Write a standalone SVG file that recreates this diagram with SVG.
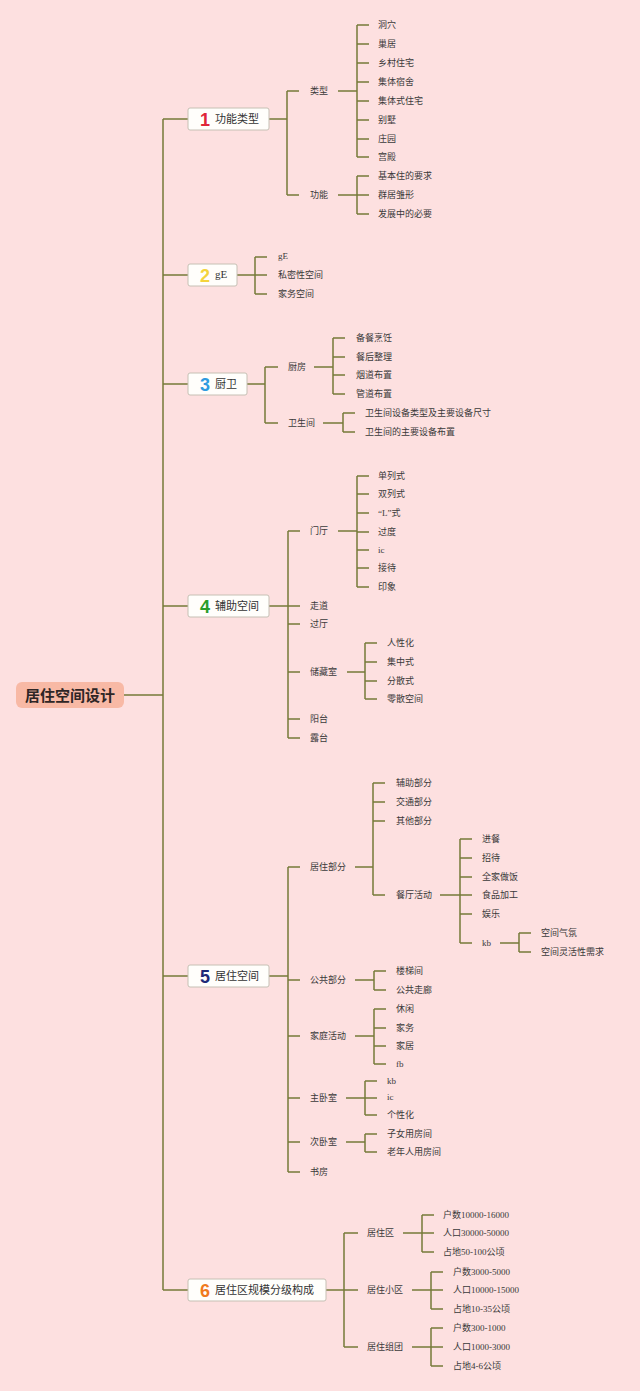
<svg xmlns="http://www.w3.org/2000/svg" width="640" height="1391" viewBox="0 0 640 1391">
<style>
.bg{fill:#fde0e0}
.l{fill:none;stroke:#767a38;stroke-width:1.5}
.t{font-family:"Liberation Serif","Noto Sans CJK SC",serif;font-size:9px;fill:#3a3a3a;dominant-baseline:central}
.h{font-family:"Liberation Serif","Noto Sans CJK SC",serif;font-size:11px;fill:#333;dominant-baseline:central}
.n{font-family:"Liberation Sans","DejaVu Sans",sans-serif;font-weight:bold;font-size:18px;text-anchor:middle;dominant-baseline:central}
.box{fill:#fffefb;stroke:#c6c0b4;stroke-width:1}
.root{fill:#f8b9a5}
.rt{font-family:"Liberation Sans","Noto Sans CJK SC",sans-serif;font-size:15px;font-weight:bold;fill:#2e2626;text-anchor:middle;dominant-baseline:central}
</style>
<rect class="bg" x="0" y="0" width="640" height="1391"/>
<g id="connectors">
<path class="l" d="M124 695H163M163 119V1290M163 119H188M163 275H188M163 384H188M163 606H188M163 976H188M163 1290H188"/>
<path class="l" d="M269 119H287M287 91V195M287 91H299M287 195H299M338 91H357M357 25V157M357 25H369M357 44H369M357 63H369M357 82H369M357 101H369M357 120H369M357 139H369M357 157H369M338 195H357M357 176V214M357 176H369M357 195H369M357 214H369"/>
<path class="l" d="M237 275H255M255 257V294M255 257H267M255 275H267M255 294H267"/>
<path class="l" d="M247 384H265M265 367V423M265 367H278M265 423H278M314 367H333M333 338V394M333 338H345M333 357H345M333 375H345M333 394H345M323 423H343M343 413V432M343 413H355M343 432H355"/>
<path class="l" d="M269 606H288M288 531V738M288 531H300M288 606H300M288 624H300M288 672H300M288 719H300M288 738H300M338 531H357M357 476V587M357 476H369M357 494H369M357 513H369M357 532H369M357 550H369M357 568H369M357 587H369M347 672H365M365 643V699M365 643H377M365 662H377M365 681H377M365 699H377"/>
<path class="l" d="M269 976H288M288 867V1172M288 867H300M288 980H300M288 1036H300M288 1098H300M288 1142H300M288 1172H300M355 867H373M373 783V895M373 783H385M373 802H385M373 821H385M373 895H385M440 895H460M460 839V943M460 839H472M460 858H472M460 877H472M460 895H472M460 914H472M460 943H472M500 943H519M519 933V952M519 933H531M519 952H531M355 980H374M374 971V990M374 971H386M374 990H386M355 1036H374M374 1009V1064M374 1009H386M374 1028H386M374 1046H386M374 1064H386M346 1098H365M365 1081V1115M365 1081H377M365 1098H377M365 1115H377M346 1142H365M365 1134V1152M365 1134H377M365 1152H377"/>
<path class="l" d="M326 1290H344M344 1233V1347M344 1233H358M344 1290H358M344 1347H358M403 1233H422M422 1215V1252M422 1215H434M422 1233H434M422 1252H434M412 1290H431M431 1272V1309M431 1272H443M431 1290H443M431 1309H443M412 1347H431M431 1328V1366M431 1328H443M431 1347H443M431 1366H443"/>
</g>
<g id="root"><rect class="root" x="16" y="682" width="108" height="26" rx="6"/><text class="rt" x="70" y="695">居住空间设计</text></g>
<g id="n1"><rect class="box" x="188" y="108" width="81" height="22" rx="2"/><text class="n" x="205" y="120" fill="#e0263a">1</text><text class="h" x="215" y="119">功能类型</text></g>
<g id="n2"><rect class="box" x="188" y="264" width="49" height="22" rx="2"/><text class="n" x="205" y="276" fill="#f4d43c">2</text><text class="h" x="215" y="274">gE</text></g>
<g id="n3"><rect class="box" x="188" y="373" width="59" height="22" rx="2"/><text class="n" x="205" y="385" fill="#2f9be0">3</text><text class="h" x="215" y="384">厨卫</text></g>
<g id="n4"><rect class="box" x="188" y="595" width="81" height="22" rx="2"/><text class="n" x="205" y="607" fill="#2a9d2a">4</text><text class="h" x="215" y="606">辅助空间</text></g>
<g id="n5"><rect class="box" x="188" y="965" width="81" height="22" rx="2"/><text class="n" x="205" y="977" fill="#1e2a78">5</text><text class="h" x="215" y="976">居住空间</text></g>
<g id="n6"><rect class="box" x="188" y="1279" width="138" height="22" rx="2"/><text class="n" x="205" y="1291" fill="#f07a1e">6</text><text class="h" x="215" y="1290">居住区规模分级构成</text></g>
<g id="n1-children">
<g id="n1a"><text class="t" x="310" y="91">类型</text></g>
<g id="n1a1"><text class="t" x="378" y="25">洞穴</text></g>
<g id="n1a2"><text class="t" x="378" y="44">巢居</text></g>
<g id="n1a3"><text class="t" x="378" y="63">乡村住宅</text></g>
<g id="n1a4"><text class="t" x="378" y="82">集体宿舍</text></g>
<g id="n1a5"><text class="t" x="378" y="101">集体式住宅</text></g>
<g id="n1a6"><text class="t" x="378" y="120">别墅</text></g>
<g id="n1a7"><text class="t" x="378" y="139">庄园</text></g>
<g id="n1a8"><text class="t" x="378" y="157">宫殿</text></g>
<g id="n1b"><text class="t" x="310" y="195">功能</text></g>
<g id="n1b1"><text class="t" x="378" y="176">基本住的要求</text></g>
<g id="n1b2"><text class="t" x="378" y="195">群居雏形</text></g>
<g id="n1b3"><text class="t" x="378" y="214">发展中的必要</text></g>
</g>
<g id="n2-children">
<g id="n2a"><text class="t" x="278" y="256">gE</text></g>
<g id="n2b"><text class="t" x="278" y="275">私密性空间</text></g>
<g id="n2c"><text class="t" x="278" y="294">家务空间</text></g>
</g>
<g id="n3-children">
<g id="n3a"><text class="t" x="288" y="367">厨房</text></g>
<g id="n3a1"><text class="t" x="356" y="338">备餐烹饪</text></g>
<g id="n3a2"><text class="t" x="356" y="357">餐后整理</text></g>
<g id="n3a3"><text class="t" x="356" y="375">烟道布置</text></g>
<g id="n3a4"><text class="t" x="356" y="394">管道布置</text></g>
<g id="n3b"><text class="t" x="288" y="423">卫生间</text></g>
<g id="n3b1"><text class="t" x="365" y="413">卫生间设备类型及主要设备尺寸</text></g>
<g id="n3b2"><text class="t" x="365" y="432">卫生间的主要设备布置</text></g>
</g>
<g id="n4-children">
<g id="n4a"><text class="t" x="310" y="531">门厅</text></g>
<g id="n4a1"><text class="t" x="378" y="476">单列式</text></g>
<g id="n4a2"><text class="t" x="378" y="494">双列式</text></g>
<g id="n4a3"><text class="t" x="378" y="513">“L”式</text></g>
<g id="n4a4"><text class="t" x="378" y="532">过度</text></g>
<g id="n4a5"><text class="t" x="378" y="550">ic</text></g>
<g id="n4a6"><text class="t" x="378" y="568">接待</text></g>
<g id="n4a7"><text class="t" x="378" y="587">印象</text></g>
<g id="n4b"><text class="t" x="310" y="606">走道</text></g>
<g id="n4c"><text class="t" x="310" y="624">过厅</text></g>
<g id="n4d"><text class="t" x="310" y="672">储藏室</text></g>
<g id="n4d1"><text class="t" x="387" y="643">人性化</text></g>
<g id="n4d2"><text class="t" x="387" y="662">集中式</text></g>
<g id="n4d3"><text class="t" x="387" y="681">分散式</text></g>
<g id="n4d4"><text class="t" x="387" y="699">零散空间</text></g>
<g id="n4e"><text class="t" x="310" y="719">阳台</text></g>
<g id="n4f"><text class="t" x="310" y="738">露台</text></g>
</g>
<g id="n5-children">
<g id="n5a"><text class="t" x="310" y="867">居住部分</text></g>
<g id="n5a1"><text class="t" x="396" y="783">辅助部分</text></g>
<g id="n5a2"><text class="t" x="396" y="802">交通部分</text></g>
<g id="n5a3"><text class="t" x="396" y="821">其他部分</text></g>
<g id="n5a4"><text class="t" x="396" y="895">餐厅活动</text></g>
<g id="n5a4a"><text class="t" x="482" y="839">进餐</text></g>
<g id="n5a4b"><text class="t" x="482" y="858">招待</text></g>
<g id="n5a4c"><text class="t" x="482" y="877">全家做饭</text></g>
<g id="n5a4d"><text class="t" x="482" y="895">食品加工</text></g>
<g id="n5a4e"><text class="t" x="482" y="914">娱乐</text></g>
<g id="n5a4f"><text class="t" x="482" y="943">kb</text></g>
<g id="n5a4f1"><text class="t" x="541" y="933">空间气氛</text></g>
<g id="n5a4f2"><text class="t" x="541" y="952">空间灵活性需求</text></g>
<g id="n5b"><text class="t" x="310" y="980">公共部分</text></g>
<g id="n5b1"><text class="t" x="396" y="971">楼梯间</text></g>
<g id="n5b2"><text class="t" x="396" y="990">公共走廊</text></g>
<g id="n5c"><text class="t" x="310" y="1036">家庭活动</text></g>
<g id="n5c1"><text class="t" x="396" y="1009">休闲</text></g>
<g id="n5c2"><text class="t" x="396" y="1028">家务</text></g>
<g id="n5c3"><text class="t" x="396" y="1046">家居</text></g>
<g id="n5c4"><text class="t" x="396" y="1064">fb</text></g>
<g id="n5d"><text class="t" x="310" y="1098">主卧室</text></g>
<g id="n5d1"><text class="t" x="387" y="1081">kb</text></g>
<g id="n5d2"><text class="t" x="387" y="1097">ic</text></g>
<g id="n5d3"><text class="t" x="387" y="1115">个性化</text></g>
<g id="n5e"><text class="t" x="310" y="1142">次卧室</text></g>
<g id="n5e1"><text class="t" x="387" y="1134">子女用房间</text></g>
<g id="n5e2"><text class="t" x="387" y="1152">老年人用房间</text></g>
<g id="n5f"><text class="t" x="310" y="1172">书房</text></g>
</g>
<g id="n6-children">
<g id="n6a"><text class="t" x="367" y="1233">居住区</text></g>
<g id="n6a1"><text class="t" x="443" y="1215">户数10000-16000</text></g>
<g id="n6a2"><text class="t" x="443" y="1233">人口30000-50000</text></g>
<g id="n6a3"><text class="t" x="443" y="1252">占地50-100公顷</text></g>
<g id="n6b"><text class="t" x="367" y="1290">居住小区</text></g>
<g id="n6b1"><text class="t" x="453" y="1272">户数3000-5000</text></g>
<g id="n6b2"><text class="t" x="453" y="1290">人口10000-15000</text></g>
<g id="n6b3"><text class="t" x="453" y="1309">占地10-35公顷</text></g>
<g id="n6c"><text class="t" x="367" y="1347">居住组团</text></g>
<g id="n6c1"><text class="t" x="453" y="1328">户数300-1000</text></g>
<g id="n6c2"><text class="t" x="453" y="1347">人口1000-3000</text></g>
<g id="n6c3"><text class="t" x="453" y="1366">占地4-6公顷</text></g>
</g>
</svg>
